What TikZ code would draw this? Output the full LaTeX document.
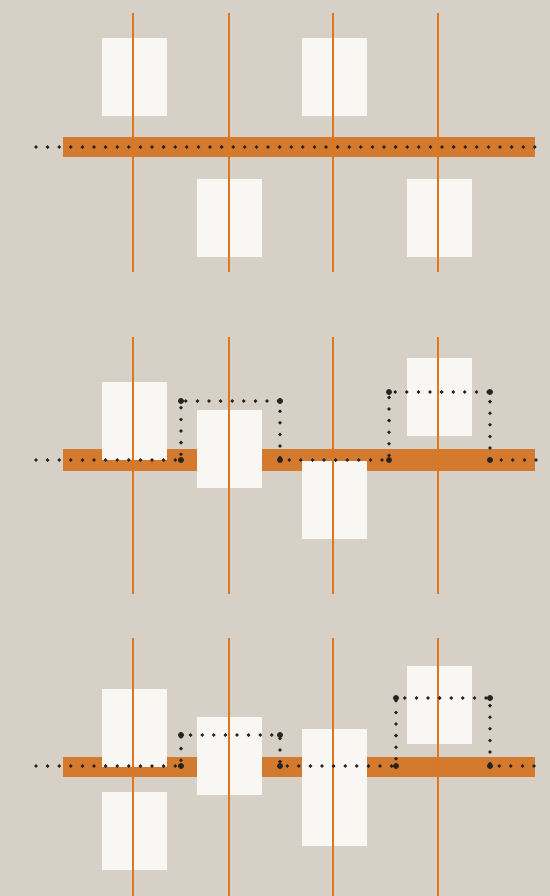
\documentclass[tikz,border=0pt]{standalone}
\usepackage{tikz}
\usetikzlibrary{calc}
\definecolor{paper}{RGB}{214,208,199}
\definecolor{rust}{RGB}{212,122,46}
\definecolor{wire}{RGB}{222,118,30}
\definecolor{sheetwhite}{RGB}{248,247,244}
\definecolor{ink}{RGB}{40,35,33}
\tikzset{
  beam/.style={fill=rust},
  post/.style={draw=wire, line width=1.2mm},
  panel/.style={
    rectangle, fill=sheetwhite, inner sep=0pt,
    minimum width=32.5mm, minimum height=39mm
  },
  tallpanel/.style={panel, minimum height=58.5mm},
  trace/.style={draw=ink, line width=1.9mm, line cap=round, dash pattern=on 0pt off 5.8mm},
  knot/.style={circle, fill=ink, inner sep=0pt, minimum size=3mm},
}

\begin{document}
\begin{tikzpicture}[x=0.5mm, y=-0.5mm]
  % Paper
  \fill[paper] (0,0) rectangle (550,896);
  \useasboundingbox (0,0) rectangle (550,896);

  % ---- Row 1: straight beam ----
  \fill[beam] (63,137) rectangle (535,157);
  \node[panel] (a1) at (134,77) {};
  \node[panel] (a3) at (334,77) {};
  \node[panel] (a2) at (229,218) {};
  \node[panel] (a4) at (439,218) {};
  \foreach \x in {133,229,333,438} {
    \draw[post] (\x,13) -- (\x,272);
  }
  \coordinate (a in) at (36,147);
  \coordinate (a out) at (542,147);
  \draw[trace] (a in) -- (a out);

  % ---- Row 2: beam with detours ----
  \fill[beam] (63,449) rectangle (535,471);
  \node[panel] (b1) at (134,421) {};
  \node[panel] (b2) at (229,449) {};
  \node[panel] (b3) at (334,500) {};
  \node[panel] (b4) at (439,397) {};
  \foreach \x in {133,229,333,438} {
    \draw[post] (\x,337) -- (\x,594);
  }
  \coordinate (b in) at (36,460);
  \coordinate (b out) at (542,460);
  \node[knot] (b k1) at (181,460) {};
  \node[knot] (b k2) at (181,401) {};
  \node[knot] (b k3) at (280,401) {};
  \node[knot] (b k4) at (280,460) {};
  \node[knot] (b k5) at (389,460) {};
  \node[knot] (b k6) at (389,392) {};
  \node[knot] (b k7) at (490,392) {};
  \node[knot] (b k8) at (490,460) {};
  \draw[trace] (b in) -- (b k1.center) -- (b k2.center) -- (b k3.center) -- (b k4.center)
    -- (b k5.center) -- (b k6.center) -- (b k7.center) -- (b k8.center) -- (b out);

  % ---- Row 3: beam with detours, stacked panels ----
  \fill[beam] (63,757) rectangle (535,777);
  \node[panel] (c1) at (134,728) {};
  \node[panel] (c5) at (134,831) {};
  \node[panel] (c2) at (229,756) {};
  \node[tallpanel] (c3) at (334,787.5) {};
  \node[panel] (c4) at (439,705) {};
  \foreach \x in {133,229,333,438} {
    \draw[post] (\x,638) -- (\x,896);
  }
  \coordinate (c in) at (36,766);
  \coordinate (c out) at (542,766);
  \node[knot] (c k1) at (181,766) {};
  \node[knot] (c k2) at (181,735) {};
  \node[knot] (c k3) at (280,735) {};
  \node[knot] (c k4) at (280,766) {};
  \node[knot] (c k5) at (396,766) {};
  \node[knot] (c k6) at (396,698) {};
  \node[knot] (c k7) at (490,698) {};
  \node[knot] (c k8) at (490,766) {};
  \draw[trace] (c in) -- (c k1.center) -- (c k2.center) -- (c k3.center) -- (c k4.center)
    -- (c k5.center) -- (c k6.center) -- (c k7.center) -- (c k8.center) -- (c out);

\end{tikzpicture}
\end{document}
